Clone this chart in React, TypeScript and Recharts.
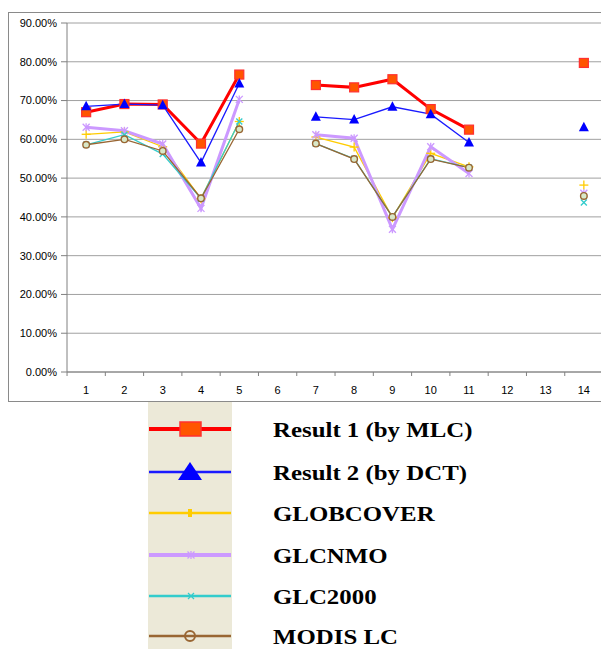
import React from "react";
import { CartesianGrid, Line, LineChart, XAxis, YAxis } from "recharts";

const categories = [1, 2, 3, 4, 5, 6, 7, 8, 9, 10, 11, 12, 13, 14];
const yTicks = [0, 10, 20, 30, 40, 50, 60, 70, 80, 90];

const result1 = [67.0, 69.1, 69.0, 58.9, 76.7, null, 74.0, 73.4, 75.5, 67.8, 62.5, null, null, 79.7];
const result2 = [68.5, 69.1, 68.8, 54.0, 74.4, null, 65.8, 65.1, 68.4, 66.5, 59.2, null, null, 63.1];
const globcover = [61.3, 61.9, 58.1, 44.7, 64.6, null, 60.6, 58.0, 39.8, 56.4, 52.9, null, null, 48.2];
const glcnmo = [63.1, 62.2, 58.8, 42.2, 70.3, null, 61.2, 60.3, 36.8, 58.1, 51.2, null, null, 46.1];
const glc2000 = [58.6, 61.2, 56.2, 44.7, 64.6, null, 58.9, 55.0, 40.0, 55.0, 52.7, null, null, 43.7];
const modis = [58.6, 60.0, 57.0, 44.8, 62.6, null, 58.9, 54.9, 40.0, 54.9, 52.7, null, null, 45.4];

type Marker = "square" | "triangle" | "plus" | "star" | "cross" | "circle";

const series: { key: string; name: string; values: (number | null)[]; color: string; width: number; marker: Marker }[] = [
  { key: "r1", name: "Result 1 (by MLC)", values: result1, color: "#FF0000", width: 3, marker: "square" },
  { key: "r2", name: "Result 2 (by DCT)", values: result2, color: "#1a1aff", width: 1.3, marker: "triangle" },
  { key: "gc", name: "GLOBCOVER", values: globcover, color: "#FFCC00", width: 1.3, marker: "plus" },
  { key: "gn", name: "GLCNMO", values: glcnmo, color: "#CC99FF", width: 3, marker: "star" },
  { key: "g2", name: "GLC2000", values: glc2000, color: "#33CCCC", width: 1.3, marker: "cross" },
  { key: "md", name: "MODIS LC", values: modis, color: "#996633", width: 1.3, marker: "circle" }
];

const data = categories.map((c, i) => {
  const row: Record<string, number | null> = { x: c };
  series.forEach((s) => (row[s.key] = s.values[i]));
  return row;
});

function drawMarker(marker: Marker, cx: number, cy: number, color: string) {
  switch (marker) {
    case "square":
      return <rect x={cx - 4.5} y={cy - 4.5} width={9} height={9} fill="#FF5500" stroke="#FF3030" strokeWidth={1.2} />;
    case "triangle":
      return <polygon points={`${cx},${cy - 5.5} ${cx - 5},${cy + 4} ${cx + 5},${cy + 4}`} fill="#0000FF" />;
    case "plus":
      return (
        <g stroke={color} strokeWidth={1.3}>
          <line x1={cx - 4.5} y1={cy} x2={cx + 4.5} y2={cy} />
          <line x1={cx} y1={cy - 4.5} x2={cx} y2={cy + 4.5} />
        </g>
      );
    case "star":
      return (
        <g stroke={color} strokeWidth={1.3}>
          <line x1={cx - 3.5} y1={cy - 3.5} x2={cx + 3.5} y2={cy + 3.5} />
          <line x1={cx - 3.5} y1={cy + 3.5} x2={cx + 3.5} y2={cy - 3.5} />
          <line x1={cx} y1={cy - 4} x2={cx} y2={cy + 4} />
        </g>
      );
    case "cross":
      return (
        <g stroke={color} strokeWidth={1.3}>
          <line x1={cx - 3} y1={cy - 3} x2={cx + 3} y2={cy + 3} />
          <line x1={cx - 3} y1={cy + 3} x2={cx + 3} y2={cy - 3} />
        </g>
      );
    default:
      return <circle cx={cx} cy={cy} r={3.3} fill="#D8E8C8" stroke={color} strokeWidth={1.4} />;
  }
}

const PLOT_W = 599 - 58 - 6;
const HALF = PLOT_W / 28;

function XTick(props: any) {
  const { x, y, payload, index } = props;
  return (
    <g>
      <line x1={x - HALF} y1={y} x2={x - HALF} y2={y + 4} stroke="#808080" />
      {index === categories.length - 1 && <line x1={x + HALF} y1={y} x2={x + HALF} y2={y + 4} stroke="#808080" />}
      <text x={x} y={y + 22} textAnchor="middle" fontSize={11} fontFamily="Liberation Sans, Arial, sans-serif" fill="#000">
        {payload.value}
      </text>
    </g>
  );
}

function Legend() {
  const rows = [27, 70, 111, 153, 194, 234];
  return (
    <svg width={601} height={247} style={{ display: "block" }}>
      <rect x={140} y={0} width={84} height={247} fill="#ECE9D8" />
      {series.map((s, i) => (
        <g key={s.key}>
          <line x1={141} y1={rows[i]} x2={223} y2={rows[i]} stroke={s.color} strokeWidth={s.width + 1} />
          {s.marker === "square" ? (
            <rect x={172} y={rows[i] - 7} width={21} height={14} fill="#FF5500" stroke="#FF3030" strokeWidth={1.5} />
          ) : s.marker === "triangle" ? (
            <polygon points={`${182},${rows[i] - 10} ${170},${rows[i] + 8} ${194},${rows[i] + 8}`} fill="#0000FF" />
          ) : s.marker === "plus" ? (
            <rect x={180} y={rows[i] - 4} width={4} height={8} fill={s.color} />
          ) : s.marker === "circle" ? (
            <circle cx={182} cy={rows[i]} r={5} fill="none" stroke={s.color} strokeWidth={2} />
          ) : (
            drawMarker(s.marker, 183, rows[i], s.color)
          )}
          <text
            transform={`translate(265, ${rows[i] + 8}) scale(1.13, 1)`}
            fontSize={22}
            fontWeight="bold"
            fontFamily="Liberation Serif, Times New Roman, serif"
            fill="#000"
          >
            {s.name}
          </text>
        </g>
      ))}
    </svg>
  );
}

export default function App() {
  return (
    <div>
      <div style={{ width: 601, height: 390, border: "1px solid #8a8a8a", borderRight: "none", marginTop: 4, boxSizing: "border-box" }}>
        <LineChart width={600} height={388} data={data} margin={{ top: 10, right: 6, left: 0, bottom: 0 }}>
          <CartesianGrid vertical={false} stroke="#A0A0A0" />
          <XAxis
            type="number"
            dataKey="x"
            domain={[0.5, 14.5]}
            ticks={categories}
            interval={0}
            height={29}
            tickSize={0}
            tickMargin={0}
            tickLine={false}
            stroke="#808080"
            tick={<XTick />}
          />
          <YAxis
            domain={[0, 90]}
            ticks={yTicks}
            width={58}
            tickSize={6}
            tickMargin={4}
            stroke="#808080"
            tick={{ fill: "#000", fontSize: 11, fontFamily: "Liberation Sans, Arial, sans-serif" }}
            tickFormatter={(v) => `${Number(v).toFixed(2)}%`}
          />
          {series.map((s) => (
            <Line
              key={s.key}
              dataKey={s.key}
              name={s.name}
              type="linear"
              stroke={s.color}
              strokeWidth={s.width}
              isAnimationActive={false}
              dot={(p: any) => (
                <g key={`${s.key}-${p.index}`}>{p.cy == null || p.value == null ? null : drawMarker(s.marker, p.cx, p.cy, s.color)}</g>
              )}
              activeDot={false}
            />
          ))}
        </LineChart>
      </div>
      <Legend />
    </div>
  );
}
